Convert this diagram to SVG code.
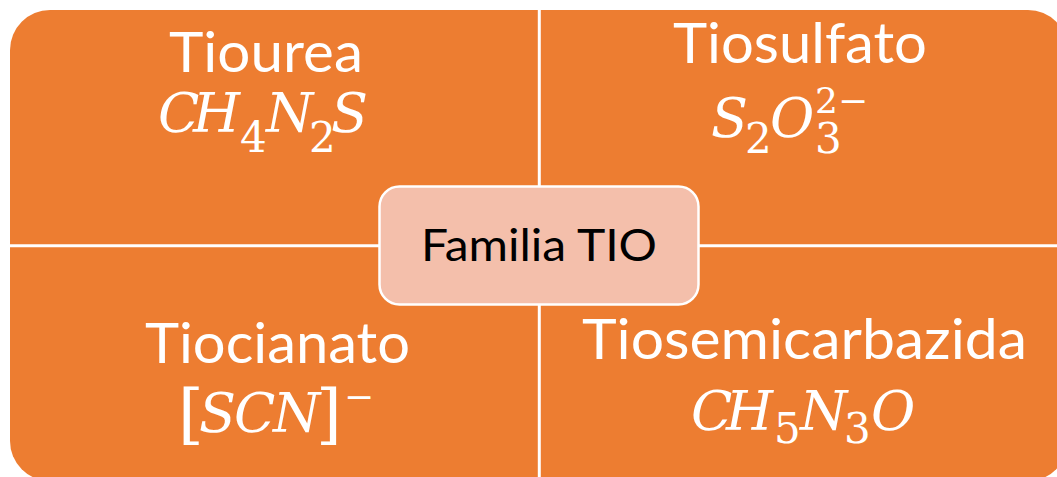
<svg xmlns="http://www.w3.org/2000/svg" width="1057" height="477" viewBox="0 0 1057 477">
  <style>
    .quad { fill: #ED7D31; }
    .title { font-family: "Lato", "Liberation Sans", sans-serif; font-size: 56px; fill: #FFFFFF; }
    .mi { font-family: "DejaVu Serif", "Liberation Serif", serif; font-style: italic; font-size: 54px; fill: #FFFFFF; }
    .mn { font-family: "DejaVu Serif", "Liberation Serif", serif; font-style: normal; font-size: 42px; fill: #FFFFFF; }
    .sup { font-family: "DejaVu Serif", "Liberation Serif", serif; font-style: normal; font-size: 36px; fill: #FFFFFF; }
    .fence { font-family: "DejaVu Serif", "Liberation Serif", serif; font-style: normal; font-size: 66px; fill: #FFFFFF; }
    .center-box { fill: #F4BFAB; stroke: #FFFFFF; stroke-width: 2.5; }
    .center-label { font-family: "Lato", "Liberation Sans", sans-serif; font-size: 45px; fill: #000000; }
  </style>

  <rect width="1057" height="477" fill="#FFFFFF"/>

  <!-- top-left quadrant -->
  <g id="tiourea">
    <path class="quad" d="M10,50 A40,40 0 0 1 50,10 L537.8,10 L537.8,244.2 L10,244.2 Z"/>
    <text class="title" x="169" y="72" textLength="194" lengthAdjust="spacingAndGlyphs">Tiourea</text>
    <text class="mi" y="132"><tspan x="158">C</tspan><tspan x="193">H</tspan><tspan class="mn" x="240" y="152">4</tspan><tspan x="266" y="132">N</tspan><tspan class="mn" x="309" y="152">2</tspan><tspan x="331" y="132">S</tspan></text>
  </g>

  <!-- top-right quadrant -->
  <g id="tiosulfato">
    <path class="quad" d="M540.8,10 L1028,10 A40,40 0 0 1 1068,50 L1068,244.2 L540.8,244.2 Z"/>
    <text class="title" x="673" y="63" textLength="254" lengthAdjust="spacingAndGlyphs">Tiosulfato</text>
    <text class="mi" y="137"><tspan x="711">S</tspan><tspan class="mn" x="745" y="153">2</tspan><tspan x="770" y="137">O</tspan><tspan class="mn" x="815" y="153">3</tspan><tspan class="sup" x="815" y="113">2−</tspan></text>
  </g>

  <!-- bottom-left quadrant -->
  <g id="tiocianato">
    <path class="quad" d="M10,247.2 L537.8,247.2 L537.8,481 L50,481 A40,40 0 0 1 10,441 Z"/>
    <text class="title" x="145" y="363" textLength="265" lengthAdjust="spacingAndGlyphs">Tiocianato</text>
    <text class="mi" y="432"><tspan class="fence" x="178" y="436">[</tspan><tspan x="199" y="432">S</tspan><tspan x="234">C</tspan><tspan x="273">N</tspan><tspan class="fence" x="316" y="436">]</tspan><tspan class="sup" x="344" y="409">−</tspan></text>
  </g>

  <!-- bottom-right quadrant -->
  <g id="tiosemicarbazida">
    <path class="quad" d="M540.8,247.2 L1068,247.2 L1068,441 A40,40 0 0 1 1028,481 L540.8,481 Z"/>
    <text class="title" x="582" y="359" textLength="445" lengthAdjust="spacingAndGlyphs">Tiosemicarbazida</text>
    <text class="mi" y="430"><tspan x="691">C</tspan><tspan x="726">H</tspan><tspan class="mn" x="774" y="443">5</tspan><tspan x="800" y="430">N</tspan><tspan class="mn" x="844" y="443">3</tspan><tspan x="871" y="430">O</tspan></text>
  </g>

  <!-- central hub -->
  <g id="familia-tio">
    <rect class="center-box" x="379.5" y="186.5" width="319" height="118" rx="20" ry="20"/>
    <text class="center-label" x="421" y="261" textLength="236" lengthAdjust="spacingAndGlyphs">Familia TIO</text>
  </g>
</svg>
